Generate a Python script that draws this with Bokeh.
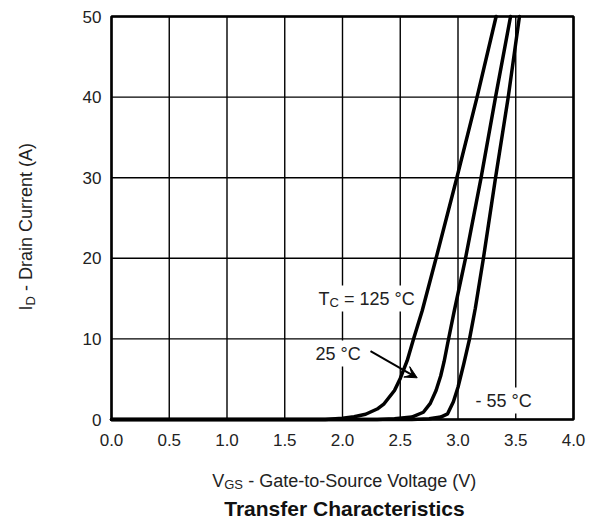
import math
from bokeh.plotting import figure
from bokeh.models import Range1d, FixedTicker, Label, Arrow, VeeHead
from bokeh.embed import file_html
from bokeh.resources import INLINE

# ---- data ----
x_ticks = [0.0, 0.5, 1.0, 1.5, 2.0, 2.5, 3.0, 3.5, 4.0]
x_tick_labels = ["0.0", "0.5", "1.0", "1.5", "2.0", "2.5", "3.0", "3.5", "4.0"]
y_ticks = [0, 10, 20, 30, 40, 50]
y_tick_labels = ["0", "10", "20", "30", "40", "50"]

v_125 = [0.0, 1.85, 2.0, 2.1, 2.2, 2.3, 2.36, 2.45, 2.5, 2.56, 2.615, 2.69, 2.81, 2.99, 3.165, 3.33]
i_125 = [0.0, 0.0, 0.15, 0.35, 0.65, 1.3, 1.95, 3.6, 5.1, 7.3, 10.0, 13.5, 20.0, 30.0, 40.0, 50.0]

v_25 = [0.0, 2.3, 2.45, 2.6, 2.7, 2.76, 2.81, 2.85, 2.88, 2.91, 2.965, 3.065, 3.2, 3.325, 3.455]
i_25 = [0.0, 0.0, 0.1, 0.3, 0.9, 2.0, 3.6, 5.4, 7.2, 9.4, 13.3, 20.0, 30.0, 40.0, 50.0]

v_m55 = [0.0, 2.6, 2.75, 2.85, 2.91, 2.96, 3.0, 3.05, 3.1, 3.15, 3.22, 3.325, 3.435, 3.532]
i_m55 = [0.0, 0.0, 0.1, 0.3, 0.7, 2.2, 4.0, 6.9, 10.0, 13.8, 20.0, 30.0, 40.0, 50.0]

FONT = "Liberation Sans"
NB = "\u00a0"

# plot box placement on the canvas (pixels)
W, H = 598, 527
BOX_L, BOX_R, BOX_T, BOX_B = 111, 573, 16, 419
X0, X1 = x_ticks[0], x_ticks[-1]
Y0, Y1 = y_ticks[0], y_ticks[-1]
sx = (BOX_R - BOX_L) / (X1 - X0)
sy = (BOX_B - BOX_T) / (Y1 - Y0)

p = figure(width=W, height=H,
           x_range=Range1d(X0 - BOX_L / sx, X1 + (W - BOX_R) / sx),
           y_range=Range1d(Y0 - (H - BOX_B) / sy, Y1 + BOX_T / sy),
           output_backend="svg", toolbar_location=None,
           min_border_left=0, min_border_right=0, min_border_top=0, min_border_bottom=0)
p.outline_line_color = None
p.background_fill_color = "white"
p.border_fill_color = "white"
p.xgrid.visible = False
p.ygrid.visible = False

p.xaxis.ticker = FixedTicker(ticks=x_ticks)
p.xaxis.major_label_overrides = {t: l for t, l in zip(x_ticks, x_tick_labels)}
p.yaxis.ticker = FixedTicker(ticks=y_ticks)
p.yaxis.major_label_overrides = {t: l for t, l in zip(y_ticks, y_tick_labels)}
p.xaxis.fixed_location = Y0
p.yaxis.fixed_location = X0
for ax in (p.xaxis, p.yaxis):
    ax.axis_line_color = None
    ax.major_tick_line_color = None
    ax.minor_tick_line_color = None
    ax.major_tick_out = 0
    ax.major_tick_in = 0
    ax.major_label_text_font = FONT
    ax.major_label_text_font_size = "17px"
    ax.major_label_text_color = "#222222"
p.xaxis.major_label_standoff = 14
p.yaxis.major_label_standoff = 10

# grid lines from the tick lists
p.segment(x0=x_ticks, y0=[Y0] * len(x_ticks), x1=x_ticks, y1=[Y1] * len(x_ticks),
          line_color="black", line_width=1.4)
p.segment(x0=[X0] * len(y_ticks), y0=y_ticks, x1=[X1] * len(y_ticks), y1=y_ticks,
          line_color="black", line_width=1.4)
# plot frame
p.quad(left=[X0], right=[X1], bottom=[Y0], top=[Y1], fill_color=None,
       line_color="black", line_width=2.6)

for vv, ii in ((v_125, i_125), (v_25, i_25), (v_m55, i_m55)):
    p.line(vv, ii, line_color="black", line_width=3.5, line_join="round", line_cap="round")


def px(x):
    return X0 + (x - BOX_L) / sx


def py(y):
    return Y0 + (BOX_B - y) / sy


def lab(x, y, text, size="18px", dx=0, dy=0, bg=True, pad=3, angle=0.0, style="normal",
        align="left", color="#222222"):
    kw = dict(x=px(x), y=py(y), text=text, text_font=FONT, text_font_size=size,
              text_color=color, x_offset=dx, y_offset=dy, angle=angle,
              text_align=align, text_baseline="alphabetic", text_font_style=style)
    if bg:
        kw["background_fill_color"] = "white"
        kw["padding"] = pad
        kw["x_offset"] = dx - pad
    p.add_layout(Label(**kw))


# curve annotations
lab(318, 298, "T")
lab(318, 298, NB + "=" + NB + "125 °C", dx=20.4)
lab(318, 298, "C", size="13px", dx=11, dy=-4, pad=0)
lab(310, 353, NB + "25 °C" + NB)
lab(475, 400, "- 55 °C")

p.add_layout(Arrow(end=VeeHead(size=12, fill_color="black", line_color="black"),
                   x_start=px(370), y_start=py(350.7), x_end=px(416.7), y_end=py(377.3),
                   line_color="black", line_width=2))

# x axis label
lab(211.7, 480, "V", bg=False)
lab(211.7, 480, "GS", size="13px", dx=12, dy=-4, bg=False)
lab(211.7, 480, NB + "-" + NB + "Gate-to-Source Voltage (V)", dx=31, bg=False)

# title
lab(344, 508, "Transfer Characteristics", size="21px", style="bold", bg=False,
    align="center", color="#111111")

# y axis label (rotated)
ang = math.pi / 2
lab(25.5, 310, "I", bg=False, angle=ang)
lab(25.5, 310, "D", size="13px", dx=4, dy=5, bg=False, angle=ang)
lab(25.5, 310, NB + "-" + NB + "Drain Current (A)", dy=14.4, bg=False, angle=ang)

open("out.html", "w").write(file_html(p, INLINE))
